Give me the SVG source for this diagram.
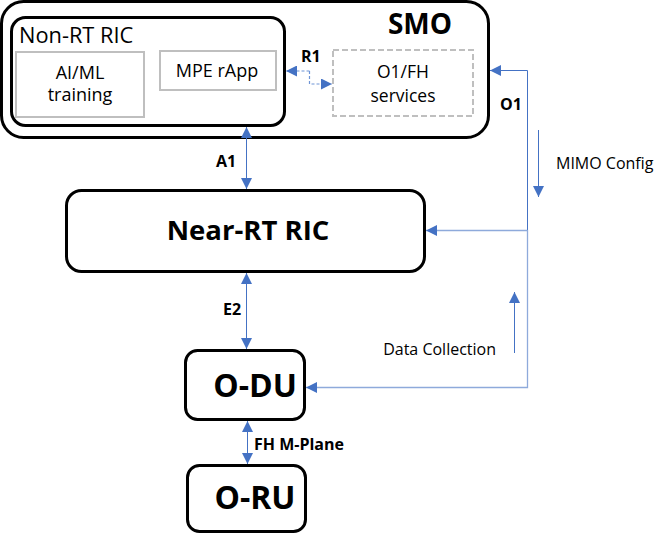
<svg xmlns="http://www.w3.org/2000/svg" width="658" height="536" viewBox="0 0 658 536">
<style>
text{font-family:"Open Sans","Noto Sans","Liberation Sans",sans-serif;fill:#000}
.box{fill:#fff;stroke:#000;stroke-width:3}
.inner{fill:#fff;stroke:#bfbfbf;stroke-width:2}
.dash{fill:#fff;stroke:#bfbfbf;stroke-width:2;stroke-dasharray:6 3}
.b{font-weight:bold}
.ln{fill:none;stroke:#4472c4;stroke-width:1}
.bus{fill:none;stroke:#8eaadb;stroke-width:1.3}
.lbl{font-size:16px;font-weight:bold}
</style>
<defs>
<marker id="ah" viewBox="0 0 10 10" refX="10" refY="5" markerWidth="11" markerHeight="11" markerUnits="userSpaceOnUse" orient="auto-start-reverse">
<path d="M0,0 L10,5 L0,10 Z" fill="#4472c4"/>
</marker>
</defs>
<g id="smo">
<rect x="1.5" y="1.5" width="487" height="136" rx="22" class="box" stroke-width="2"/>
<text x="420" y="34" text-anchor="middle" class="b" font-size="28">SMO</text>
</g>
<g id="nonrt">
<rect x="11.5" y="17.5" width="273" height="108" rx="14" class="box"/>
<text x="19" y="43" font-size="21.8">Non-RT RIC</text>
</g>
<g id="aiml">
<rect x="16" y="52" width="128" height="65" class="inner"/>
<text x="80" y="79" text-anchor="middle" font-size="18">AI/ML</text>
<text x="80" y="101" text-anchor="middle" font-size="18">training</text>
</g>
<g id="mpe">
<rect x="160" y="51" width="116" height="39" class="inner"/>
<text x="217" y="77" text-anchor="middle" font-size="18">MPE rApp</text>
</g>
<g id="o1fh">
<rect x="333" y="50" width="140" height="66" class="dash"/>
<text x="403" y="78" text-anchor="middle" font-size="17.5">O1/FH</text>
<text x="403" y="102" text-anchor="middle" font-size="17.5">services</text>
</g>
<g id="nearrt">
<rect x="66.5" y="190.5" width="358" height="81" rx="15" class="box"/>
<text x="248" y="240" text-anchor="middle" class="b" font-size="27.5">Near-RT RIC</text>
</g>
<g id="odu">
<rect x="185.5" y="350.5" width="119" height="69" rx="12" class="box"/>
<text x="255" y="397" text-anchor="middle" class="b" font-size="32">O-DU</text>
</g>
<g id="oru">
<rect x="187.5" y="465.5" width="118" height="66" rx="12" class="box"/>
<text x="255" y="509" text-anchor="middle" class="b" font-size="32">O-RU</text>
</g>
<g id="connectors">
<path d="M309.5,71 L309.5,84 L332,84" fill="none" stroke="#6f95d6" stroke-width="1.2" stroke-dasharray="3 2" marker-end="url(#ah)"/>
<path d="M309.5,71 L286,71" fill="none" stroke="#6f95d6" stroke-width="1.2" stroke-dasharray="3 2" marker-end="url(#ah)"/>
<path d="M527.5,230 L527.5,70.5 L490,70.5" class="ln" marker-end="url(#ah)"/>
<path d="M527.5,230.5 L426,230.5" class="bus" marker-end="url(#ah)"/>
<path d="M527.5,230 L527.5,387.5 L306,387.5" class="bus" marker-end="url(#ah)"/>
<path d="M538.5,130 L538.5,197" class="ln" marker-end="url(#ah)"/>
<path d="M514.5,353 L514.5,292" class="ln" marker-end="url(#ah)"/>
<path d="M246.5,127 L246.5,189" class="ln" marker-start="url(#ah)" marker-end="url(#ah)"/>
<path d="M246.5,273 L246.5,349" class="ln" marker-start="url(#ah)" marker-end="url(#ah)"/>
<path d="M247.5,421 L247.5,464" class="ln" marker-start="url(#ah)" marker-end="url(#ah)"/>
<text x="301" y="62" class="lbl">R1</text>
<text x="500" y="110" class="lbl">O1</text>
<text x="216" y="167" class="lbl">A1</text>
<text x="223" y="315" class="lbl">E2</text>
<text x="254" y="450" class="lbl">FH M-Plane</text>
<text x="556" y="169" font-size="16">MIMO Config</text>
<text x="496" y="355" text-anchor="end" font-size="16">Data Collection</text>
</g>
</svg>
